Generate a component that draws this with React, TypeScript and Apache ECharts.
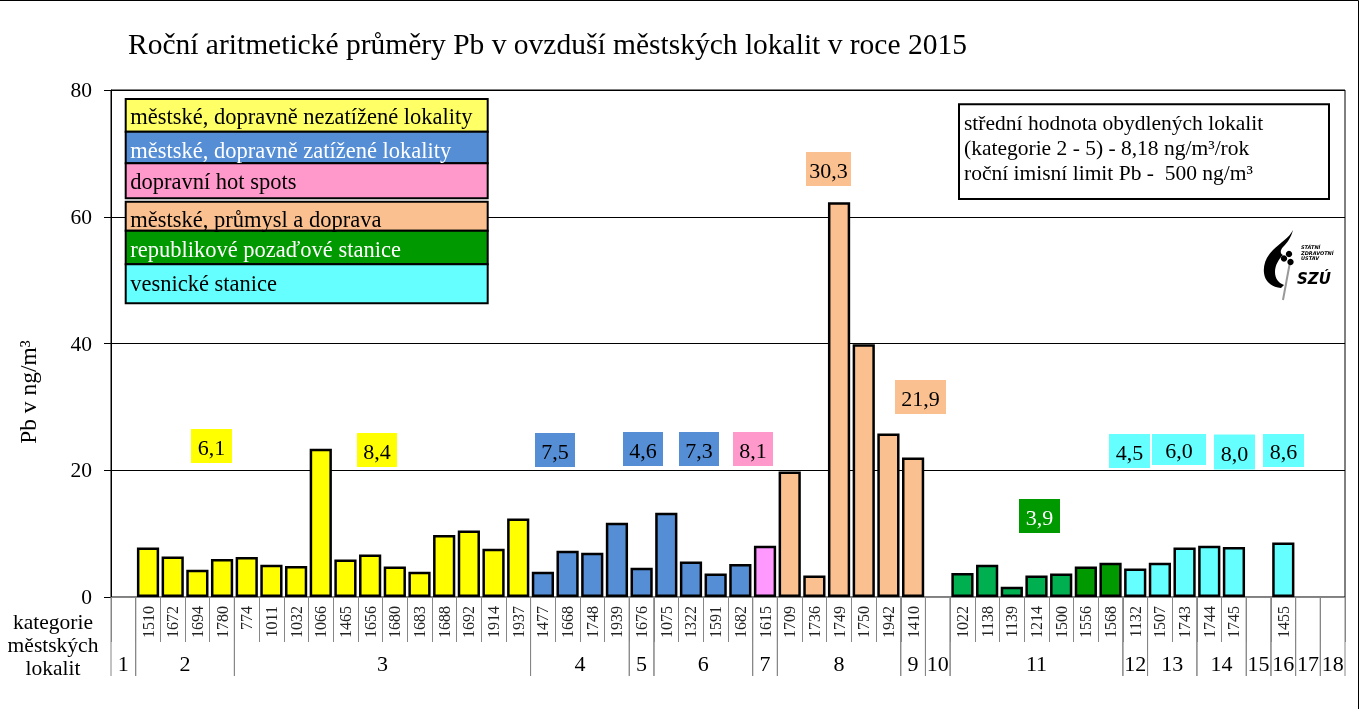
import React, { useEffect, useRef } from 'react';
import * as echarts from 'echarts';

// ---------- data ----------
const titleText = 'Roční aritmetické průměry Pb v ovzduší městských lokalit v roce 2015';
const yAxisName = 'Pb v ng/m³';
const yTicks = [0, 20, 40, 60, 80];

const groupLabels = ['1', '2', '3', '4', '5', '6', '7', '8', '9', '10', '11', '12', '13', '14', '15', '16', '17', '18'];
const groupSizes = [1, 4, 12, 4, 1, 4, 1, 5, 1, 1, 7, 1, 2, 2, 1, 1, 1, 1];

const stationIds = [
  '',
  '1510', '1672', '1694', '1780',
  '774', '1011', '1032', '1066', '1465', '1656', '1680', '1683', '1688', '1692', '1914', '1937',
  '1477', '1668', '1748', '1939',
  '1676',
  '1075', '1322', '1591', '1682',
  '1615',
  '1709', '1736', '1749', '1750', '1942',
  '1410',
  '',
  '1022', '1138', '1139', '1214', '1500', '1556', '1568',
  '1132',
  '1507', '1743',
  '1744', '1745',
  '',
  '1455',
  '',
  '',
];

const pbValues: (number | null)[] = [
  null,
  7.8, 6.4, 4.3, 6.0,
  6.3, 5.1, 4.9, 23.4, 5.9, 6.7, 4.8, 4.0, 9.8, 10.5, 7.6, 12.4,
  4.0, 7.3, 7.0, 11.7,
  4.6,
  13.3, 5.6, 3.7, 5.2,
  8.1,
  19.8, 3.4, 62.3, 39.9, 25.8,
  22.0,
  null,
  3.8, 5.1, 1.6, 3.4, 3.7, 4.8, 5.4,
  4.5,
  5.4, 7.8,
  8.1, 7.9,
  null,
  8.6,
  null,
  null,
];

// station type codes: U urban, T traffic, H hot spot, I industry, B background, E background (2), R rural
const stationTypes = [
  '',
  'U', 'U', 'U', 'U',
  'U', 'U', 'U', 'U', 'U', 'U', 'U', 'U', 'U', 'U', 'U', 'U',
  'T', 'T', 'T', 'T',
  'T',
  'T', 'T', 'T', 'T',
  'H',
  'I', 'I', 'I', 'I', 'I',
  'I',
  '',
  'B', 'B', 'B', 'B', 'B', 'E', 'E',
  'R',
  'R', 'R',
  'R', 'R',
  '',
  'R',
  '',
  '',
];

const legendLabels = [
  'městské, dopravně nezatížené lokality',
  'městské, dopravně zatížené lokality',
  'dopravní hot spots',
  'městské, průmysl a doprava',
  'republikové pozaďové stanice',
  'vesnické stanice',
];
const legendTypes = ['U', 'T', 'H', 'I', 'E', 'R'];

const groupMeanLabels = ['6,1', '8,4', '7,5', '4,6', '7,3', '8,1', '30,3', '21,9', '3,9', '4,5', '6,0', '8,0', '8,6'];
const groupMeanTypes = ['U', 'U', 'T', 'T', 'T', 'H', 'I', 'I', 'E', 'R', 'R', 'R', 'R'];

const infoLines = [
  'střední hodnota obydlených lokalit',
  '(kategorie 2 - 5) - 8,18 ng/m³/rok',
  'roční imisní limit Pb -  500 ng/m³',
];
const xCaptionLines = ['kategorie', 'městských', 'lokalit'];

// ---------- styles / layout ----------
const FONT = '"Liberation Serif", "DejaVu Serif", serif';

const barColors: Record<string, string> = {
  U: '#FFFF00', T: '#558ED5', H: '#FF99FF', I: '#FAC090', B: '#00B050', E: '#009900', R: '#66FFFF',
};
const boxColors: Record<string, string> = {
  U: '#FFFF66', T: '#558ED5', H: '#FF99CC', I: '#FAC090', B: '#00B050', E: '#009900', R: '#66FFFF',
};
const labelBoxColors: Record<string, string> = {
  U: '#FFFF00', T: '#558ED5', H: '#FF99CC', I: '#FAC090', B: '#00B050', E: '#009900', R: '#66FFFF',
};
const legendTextColors: Record<string, string> = {
  U: '#000', T: '#fff', H: '#000', I: '#000', B: '#fff', E: '#fff', R: '#000',
};

// legend rows: [top, height, textCenterY]
const legendRows = [
  [99, 32.7, 116],
  [131.7, 31.6, 150],
  [163.3, 35, 181],
  [201.7, 29, 219],
  [230.7, 33.6, 249],
  [264.3, 39, 283],
];
const legendLeft = 125.7;
const legendWidth = 362;

// mean label boxes: [cx, cy, w, h]
const meanBoxes = [
  [211.5, 446, 41, 34],
  [377, 450, 40, 34],
  [555, 450, 40, 34],
  [643, 449, 40, 34],
  [699, 449, 40, 34],
  [753, 449, 40, 34],
  [828.5, 169, 45, 34],
  [920.5, 397, 51, 34],
  [1039.5, 516, 41, 34],
  [1129.5, 451, 41, 34],
  [1179, 449.5, 54, 31],
  [1234.5, 452, 41, 35],
  [1283.5, 450.5, 41, 33],
];

const flamePath =
  'M30 0 C26 8 18 12 10 20 C3 27 0 35 1 43 C2 52 9 57 18 58 L21 55 C15 53 12 48 12 42 C12 35 16 29 20 25 C17 24 17 20 20 17 C24 13 28 8 30 0 Z';
echarts.graphic.registerShape('szuFlame', echarts.graphic.extendPath(flamePath, {}));

function buildGroups() {
  const out: number[][] = [];
  let s = 0;
  groupSizes.forEach((n) => {
    out.push([s, s + n - 1, 0]);
    s += n;
  });
  return out;
}

export default function App() {
  const ref = useRef<HTMLDivElement>(null);

  useEffect(() => {
    if (!ref.current) return;
    const chart = echarts.init(ref.current, undefined, { renderer: 'svg' });

    const barData = pbValues.map((v, i) => ({
      value: v === null ? '-' : v,
      itemStyle: { color: barColors[stationTypes[i]] || '#fff' },
    }));

    const graphics: any[] = [];
    // outer border
    graphics.push({
      type: 'rect', z: 100, silent: true,
      shape: { x: -5, y: 0.5, width: 1363.5, height: 720 },
      style: { fill: 'none', stroke: '#000', lineWidth: 1 },
    });
    // title
    graphics.push({
      type: 'text', z: 100, x: 128, y: 44,
      style: { text: titleText, font: `29.5px ${FONT}`, fill: '#000', verticalAlign: 'middle', align: 'left' },
    });
    // y axis name
    graphics.push({
      type: 'text', z: 100, x: 28, y: 392, rotation: Math.PI / 2,
      style: { text: yAxisName, font: `23.5px ${FONT}`, fill: '#000', verticalAlign: 'middle', align: 'center' },
    });
    // x caption
    xCaptionLines.forEach((t, i) => {
      graphics.push({
        type: 'text', z: 100, x: 53, y: 622 + i * 23,
        style: { text: t, font: `21.5px ${FONT}`, fill: '#000', verticalAlign: 'middle', align: 'center' },
      });
    });
    // legend
    legendLabels.forEach((t, i) => {
      const [top, h, ty] = legendRows[i];
      const k = legendTypes[i];
      graphics.push({
        type: 'rect', z: 100,
        shape: { x: legendLeft, y: top, width: legendWidth, height: h },
        style: { fill: boxColors[k], stroke: '#000', lineWidth: 2 },
      });
      graphics.push({
        type: 'text', z: 101, x: legendLeft + 4.5, y: ty,
        style: { text: t, font: `22.5px ${FONT}`, fill: legendTextColors[k], verticalAlign: 'middle', align: 'left' },
      });
    });
    // info box
    graphics.push({
      type: 'rect', z: 100,
      shape: { x: 959, y: 104.3, width: 370, height: 94.7 },
      style: { fill: '#fff', stroke: '#000', lineWidth: 2 },
    });
    infoLines.forEach((t, i) => {
      graphics.push({
        type: 'text', z: 101, x: 964, y: 123 + i * 25,
        style: { text: t, font: `21.5px ${FONT}`, fill: '#000', verticalAlign: 'middle', align: 'left' },
      });
    });
    // mean label boxes
    groupMeanLabels.forEach((t, i) => {
      const [cx, cy, w, h] = meanBoxes[i];
      const k = groupMeanTypes[i];
      graphics.push({
        type: 'rect', z: 100,
        shape: { x: cx - w / 2, y: cy - h / 2, width: w, height: h },
        style: { fill: labelBoxColors[k], stroke: 'none' },
      });
      graphics.push({
        type: 'text', z: 101, x: cx, y: cy + 1,
        style: { text: t, font: `22px ${FONT}`, fill: k === 'E' ? '#fff' : '#000', align: 'center', verticalAlign: 'middle' },
      });
    });
    // logo
    graphics.push({
      type: 'szuFlame', z: 100, x: 1263, y: 230, scaleX: 1, scaleY: 1,
      style: { fill: '#000' },
    });
    graphics.push({
      type: 'line', z: 99,
      shape: { x1: 1290, y1: 262, x2: 1283, y2: 300 },
      style: { stroke: '#999', lineWidth: 2 },
    });
    [[1289, 254, 3.2], [1284, 258.5, 3.2], [1290.5, 262, 3.2]].forEach(([cx, cy, r]) => {
      graphics.push({ type: 'circle', z: 101, shape: { cx, cy, r }, style: { fill: '#000' } });
    });
    ['STÁTNÍ', 'ZDRAVOTNÍ', 'ÚSTAV'].forEach((t, i) => {
      graphics.push({
        type: 'text', z: 101, x: 1301, y: 247 + i * 5.5,
        style: { text: t, font: `italic bold 5px "DejaVu Sans", sans-serif`, fill: '#000', verticalAlign: 'middle' },
      });
    });
    graphics.push({
      type: 'text', z: 101, x: 1297, y: 279,
      style: { text: 'SZÚ', font: `italic bold 15px "DejaVu Sans", sans-serif`, fill: '#000', verticalAlign: 'middle' },
    });

    chart.setOption({
      animation: false,
      grid: { left: 111, right: 19, top: 90, bottom: 112, show: true, borderColor: '#000', borderWidth: 1, backgroundColor: 'transparent' },
      xAxis: {
        type: 'category',
        data: stationIds,
        boundaryGap: true,
        axisLine: { show: true, lineStyle: { color: '#868686', width: 1 } },
        axisTick: { show: true, interval: 0, length: 45, lineStyle: { color: '#868686', width: 1 } },
        axisLabel: { interval: 0, rotate: 90, margin: 9, fontSize: 16, fontFamily: FONT, color: '#222' },
        splitLine: { show: false },
      },
      yAxis: {
        type: 'value',
        min: yTicks[0],
        max: yTicks[yTicks.length - 1],
        interval: 20,
        axisLine: { show: true, lineStyle: { color: '#000', width: 1 } },
        axisTick: { show: true, length: 7, lineStyle: { color: '#000' } },
        axisLabel: { margin: 19, fontSize: 21.5, fontFamily: FONT, color: '#000' },
        splitLine: { show: true, lineStyle: { color: '#000', width: 1 } },
      },
      series: [
        {
          type: 'bar',
          data: barData,
          barCategoryGap: '10%',
          itemStyle: { borderColor: '#000', borderWidth: 2.5 },
          silent: true,
        },
        {
          type: 'custom',
          silent: true,
          clip: false,
          z: 10,
          encode: { x: [0, 1], y: 2 },
          data: buildGroups(),
          renderItem: (params: any, api: any) => {
            const s = api.value(0);
            const e = api.value(1);
            const bw = api.size([1, 0], [s, 0])[0];
            const p0 = api.coord([s, 0]);
            const p1 = api.coord([e, 0]);
            const x0 = p0[0] - bw / 2;
            const x1 = p1[0] + bw / 2;
            const y0 = p0[1];
            return {
              type: 'group',
              children: [
                { type: 'line', shape: { x1: x0, y1: y0, x2: x0, y2: y0 + 79 }, style: { stroke: '#868686', lineWidth: 1 } },
                { type: 'line', shape: { x1: x1, y1: y0, x2: x1, y2: y0 + 79 }, style: { stroke: '#868686', lineWidth: 1 } },
                {
                  type: 'text', x: (x0 + x1) / 2, y: y0 + 66,
                  style: { text: groupLabels[params.dataIndex], font: `22px ${FONT}`, fill: '#000', align: 'center', verticalAlign: 'middle' },
                },
              ],
            };
          },
        },
      ],
      graphic: graphics,
    });

    return () => chart.dispose();
  }, []);

  return <div ref={ref} style={{ position: 'fixed', left: 0, top: 0, width: 1364, height: 709 }} />;
}
